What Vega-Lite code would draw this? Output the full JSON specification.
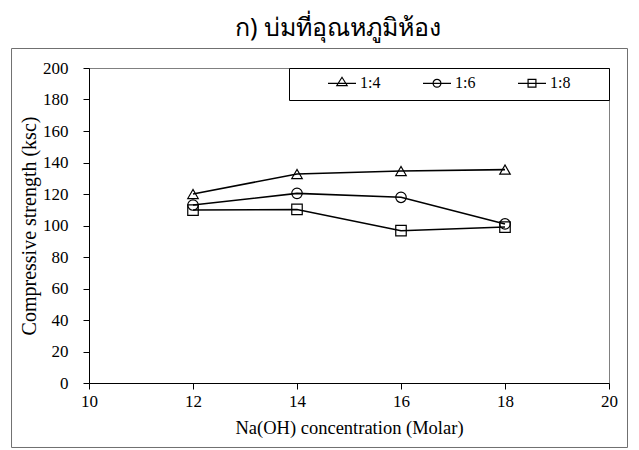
{
  "$schema": "https://vega.github.io/schema/vega-lite/v6.json",
  "width": 520,
  "height": 315,
  "autosize": {"type": "none"},
  "padding": {"left": 89, "top": 68, "right": 30, "bottom": 67},
  "background": "white",
  "title": {
    "text": "ก) บ่มที่อุณหภูมิห้อง",
    "fontSize": 25,
    "font": "Noto Sans",
    "fontWeight": "normal",
    "color": "black",
    "anchor": "middle",
    "frame": "group",
    "dx": -11,
    "offset": 7
  },
  "data": {
    "values": [
      {"molar": 12, "strength": 120, "ratio": "1:4"},
      {"molar": 14, "strength": 132.7, "ratio": "1:4"},
      {"molar": 16, "strength": 134.6, "ratio": "1:4"},
      {"molar": 18, "strength": 135.5, "ratio": "1:4"},
      {"molar": 12, "strength": 113, "ratio": "1:6"},
      {"molar": 14, "strength": 120.4, "ratio": "1:6"},
      {"molar": 16, "strength": 117.9, "ratio": "1:6"},
      {"molar": 18, "strength": 101, "ratio": "1:6"},
      {"molar": 12, "strength": 109.8, "ratio": "1:8"},
      {"molar": 14, "strength": 110.2, "ratio": "1:8"},
      {"molar": 16, "strength": 96.7, "ratio": "1:8"},
      {"molar": 18, "strength": 99, "ratio": "1:8"}
    ]
  },
  "layer": [
    {
      "mark": {"type": "line", "color": "black", "strokeWidth": 1.6},
      "encoding": {
        "x": {"field": "molar", "type": "quantitative", "scale": {"domain": [10, 20], "nice": false, "zero": false},
          "axis": {"title": "Na(OH) concentration (Molar)", "values": [10, 12, 14, 16, 18, 20], "labelFlush": false, "labelPadding": 4, "titlePadding": 9, "titleFontSize": 18.5}},
        "y": {"field": "strength", "type": "quantitative", "scale": {"domain": [0, 200], "nice": false},
          "axis": {"title": "Compressive strength (ksc)", "values": [0, 20, 40, 60, 80, 100, 120, 140, 160, 180, 200], "labelFlush": false, "labelPadding": 15, "titlePadding": 3, "titleFontSize": 20}},
        "detail": {"field": "ratio", "type": "nominal"}
      }
    },
    {
      "mark": {"type": "point", "filled": false, "stroke": "black", "strokeWidth": 1.2, "size": 110, "opacity": 1},
      "encoding": {
        "x": {"field": "molar", "type": "quantitative",
          "axis": {"title": "Na(OH) concentration (Molar)", "values": [10, 12, 14, 16, 18, 20], "labelFlush": false, "labelPadding": 4, "titlePadding": 9, "titleFontSize": 18.5}},
        "y": {"field": "strength", "type": "quantitative",
          "axis": {"title": "Compressive strength (ksc)", "values": [0, 20, 40, 60, 80, 100, 120, 140, 160, 180, 200], "labelFlush": false, "labelPadding": 15, "titlePadding": 3, "titleFontSize": 20}},
        "shape": {
          "field": "ratio",
          "type": "nominal",
          "scale": {"domain": ["1:4", "1:6", "1:8"], "range": ["triangle-up", "circle", "square"]},
          "legend": null
        }
      }
    },
    {
      "mark": {"type": "point", "filled": false, "stroke": "black", "strokeWidth": 1.2, "size": 784, "opacity": 0},
      "encoding": {
        "x": {"field": "molar", "type": "quantitative",
          "axis": {"title": "Na(OH) concentration (Molar)", "values": [10, 12, 14, 16, 18, 20], "labelFlush": false, "labelPadding": 4, "titlePadding": 9, "titleFontSize": 18.5}},
        "y": {"field": "strength", "type": "quantitative",
          "axis": {"title": "Compressive strength (ksc)", "values": [0, 20, 40, 60, 80, 100, 120, 140, 160, 180, 200], "labelFlush": false, "labelPadding": 15, "titlePadding": 3, "titleFontSize": 20}},
        "shape": {
          "field": "ratio",
          "type": "nominal",
          "scale": {
            "domain": ["1:4", "1:6", "1:8"],
            "range": [
              "M-1,0H1M-0.37,0.16L0,-0.43L0.37,0.16ZM0,-1M0,1",
              "M-1,0H1M0.28,0A0.28,0.28,0,1,1,-0.28,0A0.28,0.28,0,1,1,0.28,0ZM0,-1M0,1",
              "M-1,0H1M-0.28,-0.28H0.28V0.28H-0.28ZM0,-1M0,1M5.3,0"
            ]
          },
          "legend": {
            "title": " ",
            "titleOrient": "left",
            "titleFontSize": 10,
            "titlePadding": 38,
            "orient": "top-right",
            "direction": "horizontal",
            "offset": 0,
            "padding": 0,
            "strokeColor": "black",
            "fillColor": "white",
            "symbolSize": 784,
            "symbolOpacity": 1,
            "symbolStrokeWidth": 1.2,
            "symbolStrokeColor": "black",
            "symbolFillColor": "transparent",
            "labelFont": "Liberation Serif",
            "labelFontSize": 16,
            "labelColor": "black",
            "labelOffset": 3,
            "columnPadding": 39
          }
        }
      }
    },
    {
      "data": {"values": [{"part": "chart area border"}]},
      "mark": {"type": "rect", "filled": false, "color": "#707070", "strokeWidth": 1},
      "encoding": {
        "x": {"datum": 8.51, "type": "quantitative",
          "axis": {"title": "Na(OH) concentration (Molar)", "values": [10, 12, 14, 16, 18, 20], "labelFlush": false, "labelPadding": 4, "titlePadding": 9, "titleFontSize": 18.5}},
        "x2": {"datum": 20.356},
        "y": {"datum": 212.38, "type": "quantitative",
          "axis": {"title": "Compressive strength (ksc)", "values": [0, 20, 40, 60, 80, 100, 120, 140, 160, 180, 200], "labelFlush": false, "labelPadding": 15, "titlePadding": 3, "titleFontSize": 20}},
        "y2": {"datum": -40.95}
      }
    }
  ],
  "resolve": {"scale": {"shape": "independent"}},
  "config": {
    "view": {"stroke": "#808080"},
    "axis": {
      "labelFont": "Liberation Serif",
      "labelFontSize": 17,
      "labelColor": "black",
      "titleFont": "Liberation Serif",
      "titleFontWeight": "normal",
      "titleColor": "black",
      "domainColor": "black",
      "tickColor": "black",
      "tickSize": 6,
      "grid": false
    }
  }
}
